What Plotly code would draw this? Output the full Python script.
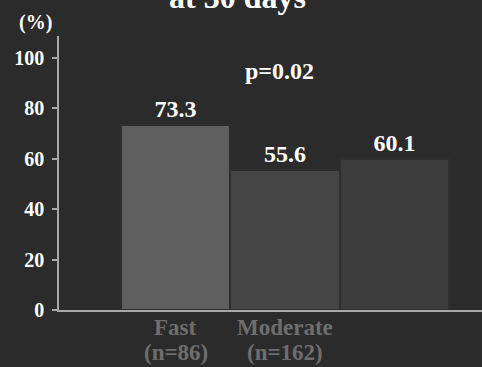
import plotly.graph_objects as go

categories = ["Fast", "Moderate", ""]
n_labels = ["(n=86)", "(n=162)", ""]
values = [73.3, 55.6, 60.1]
value_labels = ["73.3", "55.6", "60.1"]
y_ticks = [0, 20, 40, 60, 80, 100]
p_text = "p=0.02"
title_text = "at 30 days"

bar_colors = ["#5f5f5f", "#454545", "#3c3c3c"]
BG = "#2b2b2b"
FONT = "Liberation Serif, Times New Roman, serif"

xs = list(range(len(values)))
fig = go.Figure()
fig.add_trace(go.Bar(
    x=xs, y=values,
    marker=dict(color=bar_colors, line=dict(color="#2e2e2e", width=2)),
    text=[f"<b>{t}</b>" for t in value_labels], textposition="outside", cliponaxis=False,
    textfont=dict(family=FONT, size=24, color="#ffffff"),
    width=1.0, hoverinfo="skip",
))

for i in range(len(xs)):
    fig.add_annotation(x=xs[i], y=0, xref="x", yref="paper", text=f"<b>{categories[i]}</b>",
                       showarrow=False, yanchor="middle", yshift=-17,
                       font=dict(family=FONT, size=23, color="#6e6e6e"))
    fig.add_annotation(x=xs[i], y=0, xref="x", yref="paper", text=f"<b>{n_labels[i]}</b>",
                       showarrow=False, yanchor="middle", yshift=-42,
                       font=dict(family=FONT, size=23, color="#6e6e6e"))

fig.add_annotation(x=1.0, y=100, xref="x", yref="y", text=f"<b>{p_text}</b>",
                   showarrow=False, xshift=-6, yshift=-13,
                   font=dict(family=FONT, size=24, color="#ffffff"))
fig.add_annotation(x=-1.073, y=1, xref="x", yref="paper", text="<b>(%)</b>",
                   showarrow=False, xshift=-24, yshift=14, yanchor="middle",
                   font=dict(family=FONT, size=20, color="#ffffff"))
fig.add_annotation(x=0.56, y=1, xref="x", yref="paper", text=f"<b>{title_text}</b>",
                   showarrow=False, yanchor="bottom", yshift=19,
                   font=dict(family=FONT, size=32, color="#ffffff"))

fig.update_layout(
    width=482, height=367,
    margin=dict(l=59, r=0, t=36, b=57),
    paper_bgcolor=BG, plot_bgcolor=BG,
    showlegend=False, bargap=0,
    font=dict(family=FONT, color="#ffffff"),
)
fig.update_xaxes(range=[-1.073, 2.807], tickvals=xs, ticktext=["", "", ""],
                 showgrid=False, zeroline=False, showline=True,
                 linecolor="#a8a8a8", linewidth=2, ticks="")
fig.update_yaxes(range=[0, 108.7], tickvals=y_ticks,
                 ticktext=[f"<b>{v}</b>" for v in y_ticks],
                 tickfont=dict(family=FONT, size=20, color="#ffffff"),
                 showgrid=False, zeroline=False, showline=True,
                 linecolor="#a8a8a8", linewidth=1.5, ticks="outside",
                 ticklen=5, tickcolor="#a8a8a8", tickwidth=1.5,
                 ticklabelstandoff=4)

fig.write_html("out.html", config={"displayModeBar": False},
               post_script="document.body.style.margin='0';document.body.style.overflow='hidden';")
